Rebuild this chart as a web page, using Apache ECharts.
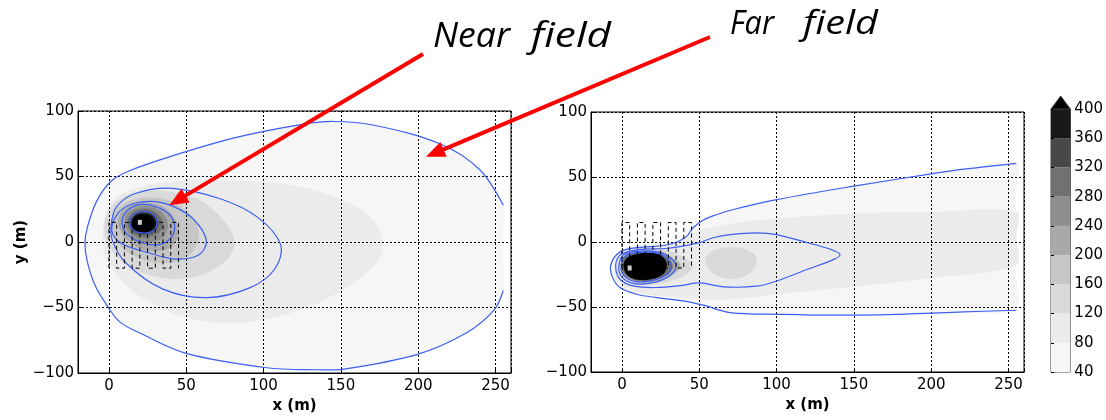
<!DOCTYPE html>
<html><head><meta charset="utf-8">
<script src="https://cdn.jsdelivr.net/npm/echarts@6/dist/echarts.min.js"></script>
<style>html,body{margin:0;padding:0;background:#fff}#c{width:1106px;height:420px}</style>
</head><body><div id="c"></div>
<script>
// ---------- colour scale (colorbar) ----------
const cbLevels = [40, 80, 120, 160, 200, 240, 280, 320, 360, 400];
const levelColors = ['#f6f6f6', '#ebebeb', '#d9d9d9', '#c6c6c6', '#a9a9a9', '#8e8e8e', '#717171', '#484848', '#181818'];
const overColor = '#000000';
const fillColors = levelColors.concat([overColor]);

// ---------- LEFT panel: filled bands (outline points, x,y in m) ----------
const leftBand40 = [[255,28],[240,55],[214,75],[170,89.5],[145,92],[126,90],[83,80],[39,65],[12.5,54],[1,46],[-8,31],[-14,11],[-15.5,-1],[-14,-15],[-9,-33],[-1.5,-48],[7,-61],[20,-69.5],[50,-85],[102,-96],[134,-97.5],[152,-97],[199,-86],[231,-69.5],[249,-52],[255,-37],[255,-15],[255,5]];
const leftBand80 = [[-4,5],[-2,22],[5,34],[20,42],[45,46.5],[80,47],[110,45],[135,39],[155,30],[170,18],[177,3],[176,-10],[168,-22],[152,-36],[130,-49],[105,-58],[80,-62],[55,-59],[33,-50],[15,-37],[3,-22],[-3,-9]];
const leftBand120 = [[-3,8],[1,26],[15,37],[35,39],[55,34],[70,22],[80,6],[81,-4],[74,-16],[58,-26],[38,-28],[18,-22],[4,-10]];
const leftBand160 = [[1,10],[5,25],[18,33],[35,33],[50,24],[58,8],[55,-6],[44,-15],[26,-15],[10,-6]];
const leftBand200 = [[6,13],[9,24],[20,30],[33,28],[42,19],[45,6],[40,-4],[28,-7],[15,-2]];
const leftBand240 = [[10,14],[13,23],[23,27.5],[33,24],[38,15],[36,5],[28,0],[17,2]];
const leftBand280 = [[12,14],[15,22],[23,25.5],[31,22],[35,14.5],[32,7],[24,3.5],[16,6]];
const leftBand320 = [[13.5,14],[16.5,21],[23,23.5],[29.5,21],[32,14],[29.5,8],[23,5.5],[16,8]];
const leftBand360 = [[14.5,14],[17,20.5],[22.5,22],[28.5,20],[30.5,14],[28,8.5],[22.5,6.5],[17,8.5]];
const leftBand400 = [[15,14],[17,19.5],[22,21],[27,19.5],[29.5,14],[27,9],[22,7],[17,9]];
const leftBandLevels = [0, 1, 2, 3, 4, 5, 6, 7, 8, 9];

// LEFT panel: blue contour lines
const leftLineOuter = [[255,28],[240,55],[214,75],[170,89.5],[145,92],[126,90],[83,80],[39,65],[12.5,54],[1,46],[-8,31],[-14,11],[-15.5,-1],[-14,-15],[-9,-33],[-1.5,-48],[7,-61],[20,-69.5],[50,-85],[102,-96],[134,-97.5],[152,-97],[199,-86],[231,-69.5],[249,-52],[255,-37]];
const leftLine2 = [[1.7,15],[5,27],[17,37],[41,41],[72,33],[96,19],[111,-2],[107,-21],[91,-35],[63,-42.5],[35,-36],[11,-16],[2,2]];
const leftLine3 = [[1.8,9],[6,22],[15,29],[28,31],[42,27],[55,17],[63,1],[58,-10],[43,-13],[25,-8],[8,-1]];
const leftLine4 = [[8.5,16],[12,24],[20,28.5],[30,27],[39,21],[42.5,12],[40,3],[32,-2],[20,0],[11,7]];
const leftLine5 = [[13.5,15],[16,21],[22,23.3],[28,21.5],[31,15],[29,9],[23,6.8],[16,9]];
const leftSource = [20, 15];

// ---------- RIGHT panel ----------
const rightBand40 = [[255,60.5],[221,56],[203,53],[150,43],[100,32.6],[72,25],[61,21],[52.7,17],[46,11],[42,4.5],[35.5,0],[27,-2.7],[14,-4],[3,-5.7],[-3.4,-9.6],[-7.3,-18.5],[-6,-27.4],[-1.3,-35],[9.5,-40.2],[22.4,-42.8],[39.7,-45.3],[52.6,-48.6],[70,-54.3],[102,-55.6],[137,-56.3],[178,-55.6],[221,-53.8],[255,-52.5],[255,-25],[255,5],[255,35]];
const rightBand80 = [[255,23],[200,23],[150,22],[100,18],[70,14],[55,10.5],[45,6],[36,0.5],[20,-2],[5,-4],[-3,-10],[-5,-20],[-3,-30],[5,-37],[20,-41],[40,-43],[60,-44.6],[85,-42.5],[110,-39],[150,-34.4],[200,-27.5],[255,-17.7],[255,3]];
const rightBlob120 = [[54,-15],[57,-8],[66,-4.5],[78,-5],[86,-10],[87,-16],[83,-24],[72,-28.5],[60,-25]];
const rightCore120 = [[-3,-19],[0,-10],[12,-5],[28,-6],[40,-12],[46,-18.5],[40,-26],[26,-32],[10,-33],[0,-28]];
const rightCore200 = [[-1,-19],[1.5,-11],[12,-7],[26,-8],[34,-13],[38,-18.5],[33,-25],[23,-30],[10,-31],[1.5,-26.5]];
const rightCore280 = [[0,-18.5],[2.5,-11],[12,-8],[24,-8.4],[30.5,-13],[33,-18.5],[30,-24.5],[21,-29.2],[10,-29.8],[2.5,-26]];
const rightCore400 = [[1,-18.5],[3.5,-12],[13,-8.5],[22.5,-8.7],[28,-13.5],[29,-18.5],[27,-24.5],[20,-28.5],[10,-29],[3.5,-25.5]];
const rightBandLevels = [0, 1, 2, 2, 4, 6, 9];

const rightLineOuter = [[255,60.5],[221,56],[203,53],[150,43],[100,32.6],[72,25],[61,21],[52.7,17],[46,11],[42,4.5],[35.5,0],[27,-2.7],[14,-4],[3,-5.7],[-3.4,-9.6],[-7.3,-18.5],[-6,-27.4],[-1.3,-35],[9.5,-40.2],[22.4,-42.8],[39.7,-45.3],[52.6,-48.6],[70,-54.3],[102,-55.6],[137,-56.3],[178,-55.6],[221,-53.8],[255,-52.5]];
const rightLinePlume = [[-4,-20],[-2,-11],[5,-7],[15,-5.5],[28,-5],[40,-3],[50,-0.5],[59,3.3],[70,5.7],[87,7],[100,5.7],[120,-0.6],[135,-5.7],[141,-9.6],[137,-13.4],[120,-21],[100,-30],[87,-34],[66,-34.5],[50,-31.5],[38,-33.5],[22,-35],[8,-34],[-1,-29]];
const rightLineB = [[-2,-19],[1,-10],[12,-7],[25,-8],[33,-14],[35,-19],[31,-26],[21,-31],[8,-32],[0,-27]];
const rightLineA = [[-0.5,-19],[2,-11],[12,-8],[24,-9],[30,-14],[32,-19],[29,-25],[20,-29.5],[9,-30.5],[1.5,-26]];
const rightSource = [5, -20];

// building array (dashed outline), both panels
const bldgX = [0, 5, 10, 15, 20, 25, 30, 35, 40, 45];
const bldgTop = 15;
const bldgBottom = -20;

// annotations: arrow tips (left panel data coords), texts
const arrowNearTip = [39, 28];
const arrowFarTip = [205, 65];
const annotationWords = [['Near', 'field'], ['Far', 'field']];

// ---------- helpers ----------
const BLUE = '#3d5ef2';
function fmt(v) { if (v % 50 !== 0) return ''; return v < 0 ? '\u2212' + Math.abs(v) : String(v); }

function fillSeries(g, polys, lv) {
  return {
    type: 'custom', xAxisIndex: g, yAxisIndex: g, z: 1, silent: true, clip: true, animation: false,
    data: polys.map(p => p[0]),
    renderItem: function (params, api) {
      const i = params.dataIndex;
      return { type: 'polygon', shape: { points: polys[i].map(q => api.coord(q)), smooth: 0.35 },
        style: { fill: fillColors[lv[i]], lineWidth: 0 } };
    }
  };
}
function contourSeries(g, loops, opens) {
  const items = opens.map(p => ({ p: p, closed: false })).concat(loops.map(p => ({ p: p, closed: true })));
  return {
    type: 'custom', xAxisIndex: g, yAxisIndex: g, z: 4, silent: true, clip: true, animation: false,
    data: items.map(it => it.p[0]),
    renderItem: function (params, api) {
      const it = items[params.dataIndex];
      return { type: it.closed ? 'polygon' : 'polyline',
        shape: { points: it.p.map(q => api.coord(q)), smooth: 0.35 },
        style: { fill: 'none', stroke: BLUE, lineWidth: 1.2 } };
    }
  };
}
function bldgSeries(g) {
  return {
    type: 'custom', xAxisIndex: g, yAxisIndex: g, z: 4, silent: true, clip: true, animation: false,
    data: [[bldgX[0], bldgTop]],
    renderItem: function (params, api) {
      const pts = [];
      bldgX.forEach((x, i) => {
        if (i % 2 === 0) { pts.push(api.coord([x, bldgBottom])); pts.push(api.coord([x, bldgTop])); }
        else { pts.push(api.coord([x, bldgTop])); pts.push(api.coord([x, bldgBottom])); }
      });
      return { type: 'polyline', shape: { points: pts }, style: { fill: 'none', stroke: '#000', lineWidth: 1, lineDash: [4, 3] } };
    }
  };
}
function sourceSeries(g, pt) {
  return {
    type: 'scatter', xAxisIndex: g, yAxisIndex: g, z: 6, silent: true, clip: false, animation: false,
    symbol: 'rect', symbolSize: [4, 5], itemStyle: { color: '#fff' }, data: [pt]
  };
}

const tickFont = { color: '#000', fontFamily: 'DejaVu Sans', fontSize: 15 };
const nameFont = { color: '#000', fontFamily: 'DejaVu Sans', fontSize: 15, fontWeight: 'bold' };
const gridLine = { show: true, lineStyle: { color: '#000', type: [2, 2], width: 1 } };

function xAx(g) {
  return { gridIndex: g, type: 'value', min: -20, max: 260, splitNumber: 5, z: 3,
    name: 'x (m)', nameLocation: 'middle', nameGap: 25, nameTextStyle: nameFont,
    axisLine: { show: true, onZero: false, lineStyle: { color: '#000' } },
    axisTick: { show: true, inside: true, length: 4, lineStyle: { color: '#000' } },
    axisLabel: Object.assign({ margin: 6, formatter: fmt }, tickFont), splitLine: gridLine };
}
function yAx(g, named) {
  return { gridIndex: g, type: 'value', min: -100, max: 100, interval: 50, z: 3,
    name: named ? 'y (m)' : '', nameLocation: 'middle', nameRotate: 90, nameGap: 44, nameTextStyle: nameFont,
    axisLine: { show: true, onZero: false, lineStyle: { color: '#000' } },
    axisTick: { show: true, inside: true, length: 4, lineStyle: { color: '#000' } },
    axisLabel: Object.assign({ margin: 4, formatter: fmt }, tickFont), splitLine: gridLine };
}

const chart = echarts.init(document.getElementById('c'), null, { renderer: 'canvas' });
chart.setOption({
  animation: false,
  backgroundColor: '#fff',
  grid: [
    { left: 78, top: 111, width: 433, height: 262, show: true, borderColor: '#000', borderWidth: 1, backgroundColor: 'transparent' },
    { left: 591, top: 112, width: 433, height: 260, show: true, borderColor: '#000', borderWidth: 1, backgroundColor: 'transparent' },
    { left: 1051, top: 109, width: 26, height: 263, show: true, borderColor: '#444', borderWidth: 1, backgroundColor: 'transparent' }
  ],
  xAxis: [xAx(0), xAx(1), { gridIndex: 2, type: 'value', min: 0, max: 1, show: false }],
  yAxis: [yAx(0, true), yAx(1, false),
    { gridIndex: 2, type: 'value', min: 40, max: 400, interval: 40, position: 'right', z: 3,
      axisLine: { show: false }, splitLine: { show: false },
      axisTick: { show: true, inside: false, length: 3, lineStyle: { color: '#000' } },
      axisLabel: Object.assign({ margin: 4 }, tickFont) }],
  series: [
    fillSeries(0, [leftBand40, leftBand80, leftBand120, leftBand160, leftBand200, leftBand240, leftBand280, leftBand320, leftBand360, leftBand400], leftBandLevels),
    contourSeries(0, [leftLine2, leftLine3, leftLine4, leftLine5], [leftLineOuter]),
    bldgSeries(0),
    sourceSeries(0, leftSource),
    fillSeries(1, [rightBand40, rightBand80, rightBlob120, rightCore120, rightCore200, rightCore280, rightCore400], rightBandLevels),
    contourSeries(1, [rightLinePlume, rightLineB, rightLineA], [rightLineOuter]),
    bldgSeries(1),
    sourceSeries(1, rightSource),
    {
      type: 'custom', xAxisIndex: 2, yAxisIndex: 2, z: 2, silent: true, clip: false, animation: false,
      data: levelColors.map((c, i) => [0, cbLevels[i]]),
      renderItem: function (params, api) {
        const i = params.dataIndex;
        const p0 = api.coord([0, cbLevels[i]]);
        const p1 = api.coord([1, cbLevels[i + 1]]);
        return { type: 'rect', shape: { x: p0[0], y: p1[1], width: p1[0] - p0[0], height: p0[1] - p1[1] }, style: { fill: levelColors[i] } };
      }
    },
    {
      type: 'custom', xAxisIndex: 2, yAxisIndex: 2, z: 2, silent: true, clip: false, animation: false,
      data: [[0.5, cbLevels[cbLevels.length - 1]]],
      renderItem: function (params, api) {
        const top = cbLevels[cbLevels.length - 1];
        const a = api.coord([0, top]), b = api.coord([1, top]), m = api.coord([0.5, top]);
        return { type: 'polygon', shape: { points: [a, b, [m[0], m[1] - 13]] }, style: { fill: overColor, stroke: '#444', lineWidth: 1 } };
      }
    }
  ]
});

// ---------- annotations: arrows pointing at data positions (through the axis scales) ----------
function arrow(start, tipData) {
  const tip = chart.convertToPixel({ gridIndex: 0 }, tipData);
  const dx = tip[0] - start[0], dy = tip[1] - start[1], L = Math.hypot(dx, dy);
  const ux = dx / L, uy = dy / L, hl = 19, hw = 8;
  const bx = tip[0] - ux * hl, by = tip[1] - uy * hl;
  return [
    { type: 'line', z: 100, silent: true, shape: { x1: start[0], y1: start[1], x2: bx + ux * 3, y2: by + uy * 3 }, style: { stroke: '#ff0000', lineWidth: 4 } },
    { type: 'polygon', z: 100, silent: true, shape: { points: [tip, [bx - uy * hw, by + ux * hw], [bx + uy * hw, by - ux * hw]] }, style: { fill: '#ff0000' } }
  ];
}
// italic words stretched horizontally to the widths seen in the picture
const measureCtx = document.createElement('canvas').getContext('2d');
function word(text, x, y, size, targetW) {
  const font = 'italic ' + size + 'px "Open Sans"';
  measureCtx.font = font;
  const w = measureCtx.measureText(text).width;
  return { type: 'text', x: x, y: y, scaleX: targetW / w, silent: true, z: 100, style: { text: text, font: font, fill: '#000' } };
}
chart.setOption({
  graphic: { elements: [
    word(annotationWords[0][0], 433, 20, 35, 77),
    word(annotationWords[0][1], 531, 20, 35, 80),
    word(annotationWords[1][0], 730, 8, 33, 44),
    word(annotationWords[1][1], 803, 8, 33, 75)
  ].concat(arrow([423, 54], arrowNearTip), arrow([710, 37], arrowFarTip)) }
});
</script></body></html>
